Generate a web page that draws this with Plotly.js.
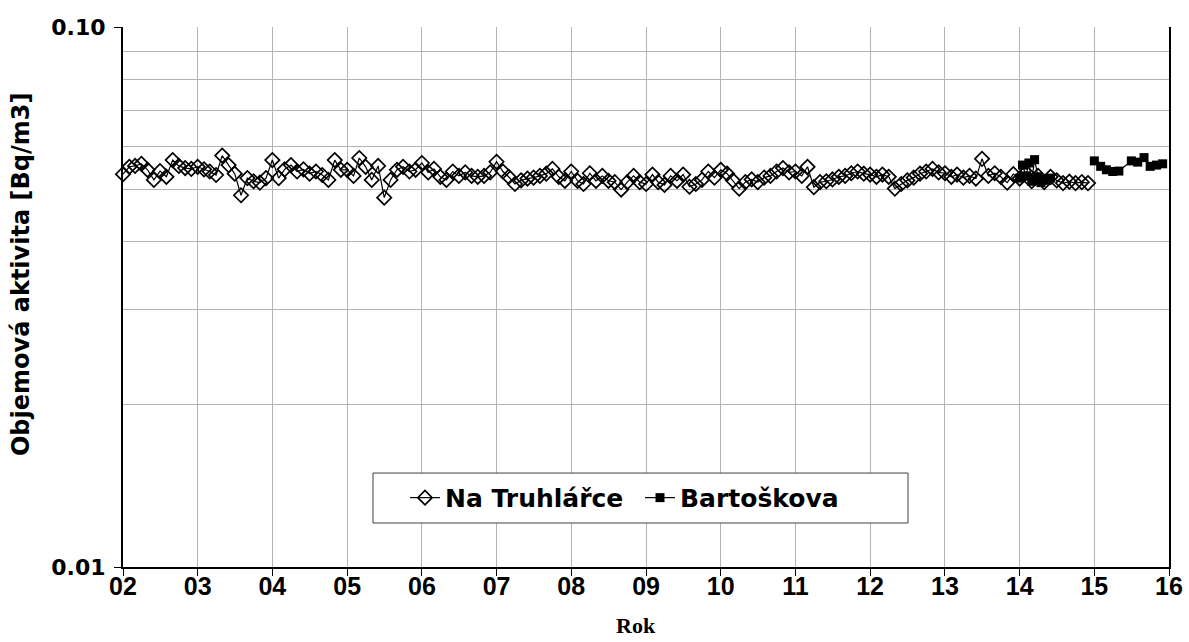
<!DOCTYPE html>
<html>
<head>
<meta charset="utf-8">
<script src="https://cdn.plot.ly/plotly-3.0.1.min.js"></script>
<style>
  html, body { margin: 0; padding: 0; background: #ffffff; }
  #chart { width: 1189px; height: 642px; }
</style>
</head>
<body>
<div id="chart"></div>
<script>
// Monthly volume activity, station Na Truhlářce, Jan 2002 – Dec 2014 [Bq/m3]
const truhlarceStartYear = 2002;
const truhlarceValues = [
  0.0534, 0.0551, 0.0553, 0.0558, 0.0544, 0.0521, 0.0541, 0.0528, 0.0567, 0.0553, 0.0548, 0.0546,
  0.0551, 0.0545, 0.0540, 0.0532, 0.0578, 0.0555, 0.0535, 0.0488, 0.0525, 0.0518, 0.0515, 0.0525,
  0.0567, 0.0525, 0.0545, 0.0555, 0.0540, 0.0545, 0.0535, 0.0540, 0.0532, 0.0521, 0.0567, 0.0544,
  0.0544, 0.0530, 0.0572, 0.0551, 0.0521, 0.0553, 0.0483, 0.0521, 0.0544, 0.0551, 0.0540, 0.0544,
  0.0560, 0.0538, 0.0546, 0.0528, 0.0521, 0.0540, 0.0530, 0.0538, 0.0530, 0.0528, 0.0530, 0.0538,
  0.0563, 0.0540, 0.0528, 0.0512, 0.0520, 0.0524, 0.0526, 0.0530, 0.0535, 0.0546, 0.0528, 0.0519,
  0.0540, 0.0519, 0.0512, 0.0536, 0.0519, 0.0530, 0.0519, 0.0516, 0.0500, 0.0516, 0.0530, 0.0516,
  0.0512, 0.0533, 0.0516, 0.0510, 0.0530, 0.0519, 0.0533, 0.0506, 0.0512, 0.0521, 0.0540, 0.0526,
  0.0544, 0.0535, 0.0520, 0.0502, 0.0516, 0.0522, 0.0516, 0.0526, 0.0530, 0.0540, 0.0548, 0.0538,
  0.0540, 0.0530, 0.0551, 0.0505, 0.0516, 0.0518, 0.0522, 0.0528, 0.0530, 0.0536, 0.0540, 0.0535,
  0.0533, 0.0528, 0.0533, 0.0528, 0.0502, 0.0512, 0.0520, 0.0526, 0.0535, 0.0540, 0.0546, 0.0538,
  0.0536, 0.0528, 0.0533, 0.0526, 0.0530, 0.0524, 0.0570, 0.0530, 0.0536, 0.0528, 0.0515, 0.0534,
  0.0524, 0.0538, 0.0518, 0.0530, 0.0516, 0.0528, 0.0520, 0.0514, 0.0517, 0.0514, 0.0516, 0.0514
];

// Station Bartoškova, 2014 – 2015 (null = no measurement, breaks the line)
const bartoskovaDates = [
  '2014-01-01', '2014-01-15', '2014-02-01', '2014-02-15', '2014-03-01', '2014-03-15',
  '2014-04-01', '2014-04-15', '2014-05-01', '2014-05-15', '2014-06-01',
  '2014-09-01',
  '2015-01-01', '2015-02-01', '2015-03-01', '2015-04-01', '2015-05-01',
  '2015-07-01', '2015-08-01', '2015-09-01', '2015-10-01', '2015-11-01', '2015-12-01'
];
const bartoskovaValues = [
  0.0525, 0.0555, 0.0530, 0.0560, 0.0518, 0.0568,
  0.0528, 0.0515, 0.0522, 0.0520, 0.0525,
  null,
  0.0565, 0.0552, 0.0544, 0.0540, 0.0541,
  0.0565, 0.0562, 0.0573, 0.0552, 0.0555, 0.0558
];

const yearTicks = ['2002', '2003', '2004', '2005', '2006', '2007', '2008', '2009',
                   '2010', '2011', '2012', '2013', '2014', '2015', '2016'];
const yearLabels = ['02', '03', '04', '05', '06', '07', '08', '09',
                    '10', '11', '12', '13', '14', '15', '16'];

const truhlarceDates = truhlarceValues.map((_, i) => {
  const y = truhlarceStartYear + Math.floor(i / 12);
  const m = String(i % 12 + 1).padStart(2, '0');
  return `${y}-${m}-01`;
});

const wide = '"DejaVu Sans", Arial, sans-serif';
const narrow = '"Liberation Sans Narrow", "Arial Narrow", Arial, sans-serif';
const serif = '"Times New Roman", "Liberation Serif", serif';

const traces = [
  {
    name: 'Na Truhlářce',
    x: truhlarceDates,
    y: truhlarceValues,
    type: 'scatter',
    mode: 'lines+markers',
    line: { color: '#000000', width: 1.2 },
    marker: { symbol: 'diamond-open', size: 11, color: '#000000', line: { width: 1.7, color: '#000000' } },
    cliponaxis: false
  },
  {
    name: 'Bartoškova',
    x: bartoskovaDates,
    y: bartoskovaValues,
    type: 'scatter',
    mode: 'lines+markers',
    connectgaps: false,
    line: { color: '#000000', width: 1.2 },
    marker: { symbol: 'square', size: 9, color: '#000000' }
  }
];

const layout = {
  width: 1189,
  height: 642,
  margin: { l: 123, r: 20, t: 27, b: 75 },
  paper_bgcolor: '#ffffff',
  plot_bgcolor: '#ffffff',
  showlegend: true,
  legend: {
    orientation: 'h',
    x: 0.2696, xanchor: 'left',
    y: 0.128, yanchor: 'middle',
    bgcolor: 'rgba(0,0,0,0)',
    borderwidth: 0,
    entrywidth: 190,
    font: { family: wide, size: 25, color: '#000000', weight: 'bold' }
  },
  shapes: [
    {
      // legend frame
      type: 'rect', xref: 'paper', yref: 'paper',
      x0: 0.239, x1: 0.7505, y0: 0.0815, y1: 0.174,
      fillcolor: '#ffffff', line: { color: '#404040', width: 1 },
      layer: 'above'
    }
  ],
  annotations: [
    {
      // y-axis title
      text: 'Objemová aktivita [Bq/m3]',
      xref: 'paper', yref: 'paper',
      x: -0.0975, y: 0.5407,
      xanchor: 'center', yanchor: 'middle',
      textangle: -90, showarrow: false,
      font: { family: wide, size: 24, color: '#000000', weight: 'bold' }
    },
    {
      // x-axis title
      text: 'Rok',
      xref: 'paper', yref: 'paper',
      x: 0.4904, y: -0.1075,
      xanchor: 'center', yanchor: 'middle',
      showarrow: false,
      font: { family: serif, size: 22, color: '#000000', weight: 'bold' }
    }
  ],
  xaxis: {
    type: 'date',
    range: ['2002-01-01', '2016-01-01'],
    tickvals: yearTicks,
    ticktext: yearLabels,
    ticks: 'outside',
    ticklen: 7,
    tickwidth: 1,
    tickcolor: '#000000',
    ticklabelstandoff: -11,
    showgrid: true,
    gridcolor: '#b4b4b4',
    gridwidth: 1,
    showline: true,
    linecolor: '#000000',
    linewidth: 2,
    zeroline: false,
    tickfont: { family: narrow, size: 25, color: '#000000', weight: 'bold' }
  },
  yaxis: {
    type: 'log',
    range: [-2, -1],
    tickvals: [0.01, 0.1],
    ticktext: ['0.01', '0.10'],
    ticks: 'outside',
    ticklen: 7,
    tickwidth: 1,
    tickcolor: '#000000',
    ticklabelstandoff: 4,
    showgrid: true,
    gridcolor: '#b4b4b4',
    gridwidth: 1,
    minor: { dtick: 'D1', showgrid: true, gridcolor: '#b4b4b4', gridwidth: 1, ticks: '' },
    showline: true,
    mirror: true,
    linecolor: '#000000',
    linewidth: 2,
    zeroline: false,
    tickfont: { family: wide, size: 22, color: '#000000', weight: 'bold' }
  }
};

Plotly.newPlot('chart', traces, layout, { displayModeBar: false, staticPlot: true });
</script>
</body>
</html>
